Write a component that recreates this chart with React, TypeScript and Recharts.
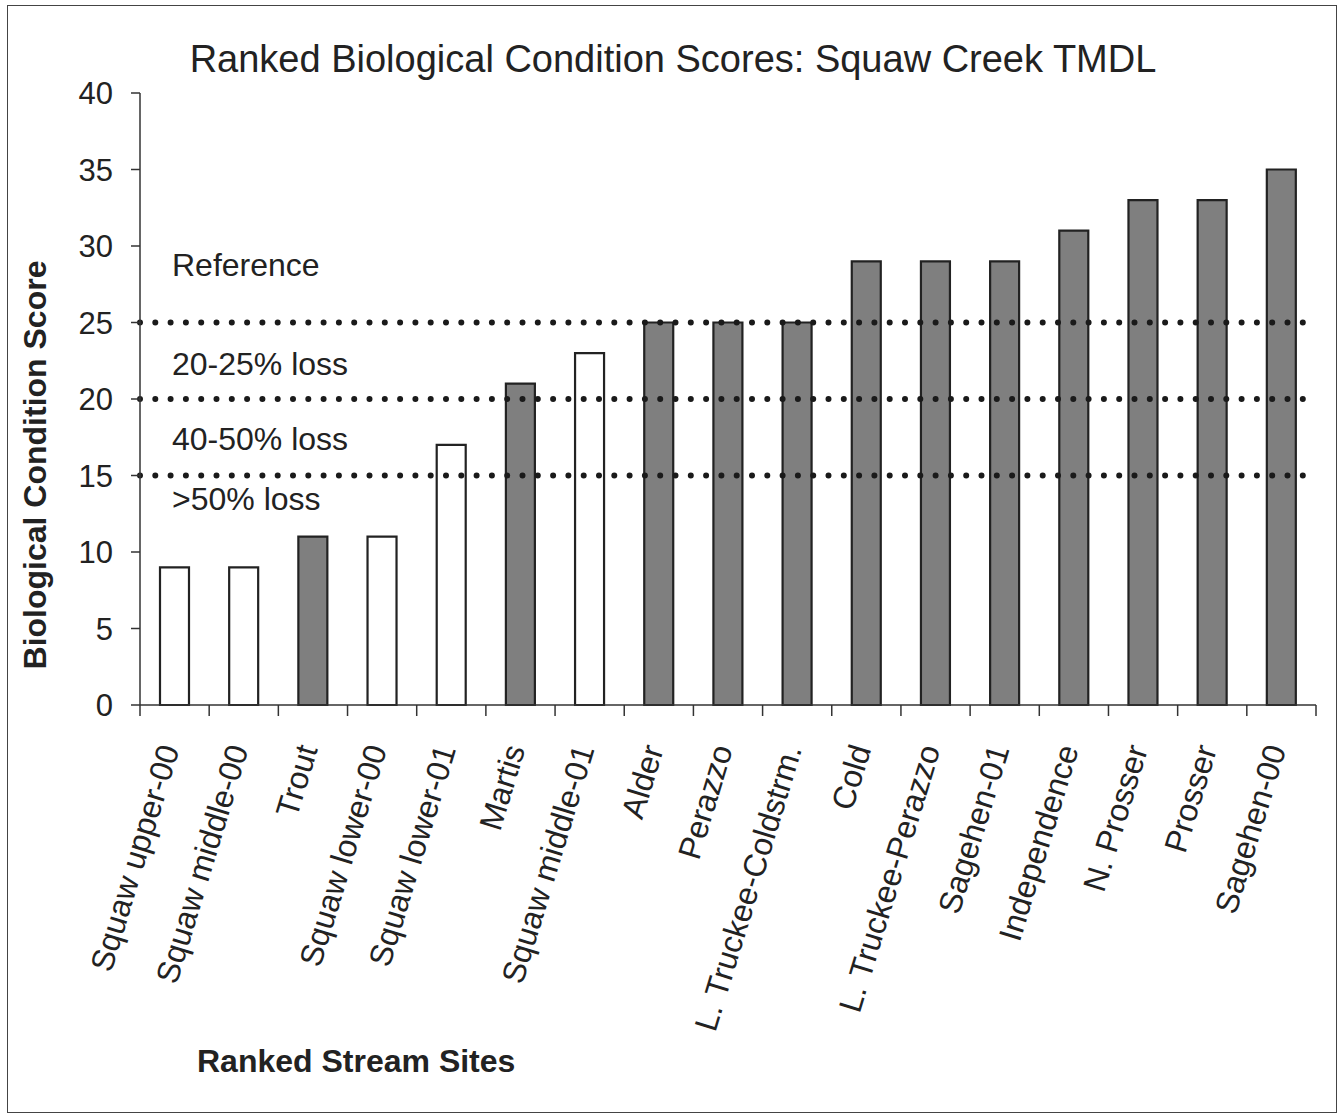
import { BarChart, Bar, XAxis, YAxis, Cell, ReferenceLine } from "recharts";

// ranked sites, lowest score first
const sites = [
  "Squaw upper-00",
  "Squaw middle-00",
  "Trout",
  "Squaw lower-00",
  "Squaw lower-01",
  "Martis",
  "Squaw middle-01",
  "Alder",
  "Perazzo",
  "L. Truckee-Coldstrm.",
  "Cold",
  "L. Truckee-Perazzo",
  "Sagehen-01",
  "Independence",
  "N. Prosser",
  "Prosser",
  "Sagehen-00",
];
const scores = [9, 9, 11, 11, 17, 21, 23, 25, 25, 25, 29, 29, 29, 31, 33, 33, 35];
// Squaw Creek sites are drawn hollow
const squawSites = ["Squaw upper-00", "Squaw middle-00", "Squaw lower-00", "Squaw lower-01", "Squaw middle-01"];

const yTicks = [0, 5, 10, 15, 20, 25, 30, 35, 40];
const thresholds = [25, 20, 15];
const bandLabels = [
  { text: "Reference", y: 28.8 },
  { text: "20-25% loss", y: 22.3 },
  { text: "40-50% loss", y: 17.4 },
  { text: ">50% loss", y: 13.5 },
];

const data = sites.map((name, i) => ({ name, score: scores[i] }));

const FONT = '"Liberation Sans", Arial, sans-serif';
const INK = "#222";

const SiteTick = (props: any) => {
  const { x, y, payload, index } = props;
  const band = 1176 / sites.length;
  const axisY = y - 10;
  const tx = x + 5;
  const ty = axisY + 44;
  return (
    <g>
      <line x1={x - band / 2} y1={axisY} x2={x - band / 2} y2={axisY + 11} stroke="#333" strokeWidth={1.5} />
      {index === sites.length - 1 && (
        <line x1={x + band / 2} y1={axisY} x2={x + band / 2} y2={axisY + 11} stroke="#333" strokeWidth={1.5} />
      )}
      <text
        x={tx}
        y={ty}
        textAnchor="end"
        transform={`rotate(-73, ${tx}, ${ty})`}
        fontSize={32}
        fontFamily={FONT}
        fill={INK}
      >
        {payload.value}
      </text>
    </g>
  );
};

const App = () => {
  return (
    <div
      style={{
        position: "absolute",
        left: 7,
        top: 5,
        width: 1330,
        height: 1108,
        border: "1.5px solid #444",
        boxSizing: "border-box",
        background: "#fff",
      }}
    >
      <div
        style={{
          position: "absolute",
          left: 0,
          width: 1330,
          top: 32,
          textAlign: "center",
          fontFamily: FONT,
          fontSize: 38,
          color: INK,
        }}
      >
        Ranked Biological Condition Scores: Squaw Creek TMDL
      </div>
      <BarChart
        width={1330}
        height={1108}
        data={data}
        margin={{ top: 88, right: 21, left: 0, bottom: 0 }}
        barCategoryGap={0}
        style={{ position: "absolute", left: -1.5, top: -1.5 }}
      >
        <XAxis
          dataKey="name"
          height={408}
          interval={0}
          tickLine={false}
          tickSize={0}
          tickMargin={10}
          axisLine={{ stroke: "#333", strokeWidth: 1.5 }}
          tick={<SiteTick />}
          label={(p: any) => {
            const vb = p.viewBox;
            return (
              <text
                x={vb.x + 57}
                y={vb.y + 367}
                fontSize={32}
                fontWeight="bold"
                fontFamily={FONT}
                fill={INK}
              >
                Ranked Stream Sites
              </text>
            );
          }}
        />
        <XAxis
          xAxisId="top"
          dataKey="name"
          orientation="top"
          height={0}
          tick={false}
          tickLine={false}
          axisLine={{ stroke: "#555", strokeWidth: 1.5 }}
        />
        <YAxis
          width={133}
          domain={[0, 40]}
          ticks={yTicks}
          interval={0}
          tickSize={9}
          tickMargin={18}
          tickLine={{ stroke: "#333", strokeWidth: 1.5 }}
          axisLine={{ stroke: "#333", strokeWidth: 1.5 }}
          tick={{ fontSize: 31, fontFamily: FONT, fill: INK }}
          label={(p: any) => {
            const vb = p.viewBox;
            const cx = 28;
            const cy = vb.y + 372;
            return (
              <text
                x={cx}
                y={cy}
                textAnchor="middle"
                dominantBaseline="central"
                transform={`rotate(-90, ${cx}, ${cy})`}
                fontSize={32}
                fontWeight="bold"
                fontFamily={FONT}
                fill={INK}
              >
                Biological Condition Score
              </text>
            );
          }}
        />
        <YAxis
          yAxisId="right"
          orientation="right"
          width={0}
          domain={[0, 40]}
          tick={false}
          tickLine={false}
          axisLine={{ stroke: "#555", strokeWidth: 1.5 }}
        />
        <Bar dataKey="score" barSize={29} isAnimationActive={false} stroke="#222" strokeWidth={2.2}>
          {data.map((d) => (
            <Cell key={d.name} fill={squawSites.includes(d.name) ? "#ffffff" : "#7f7f7f"} />
          ))}
        </Bar>
        {bandLabels.map((b) => (
          <ReferenceLine
            key={b.text}
            y={b.y}
            stroke="none"
            label={{
              value: b.text,
              position: "insideLeft",
              offset: 32,
              fontSize: 32,
              fontFamily: FONT,
              fill: INK,
            }}
          />
        ))}
        {thresholds.map((t) => (
          <ReferenceLine
            key={t}
            y={t}
            stroke="#1a1a1a"
            strokeWidth={6}
            strokeLinecap="round"
            strokeDasharray="0 15.3"
          />
        ))}
      </BarChart>
    </div>
  );
};

export default App;
